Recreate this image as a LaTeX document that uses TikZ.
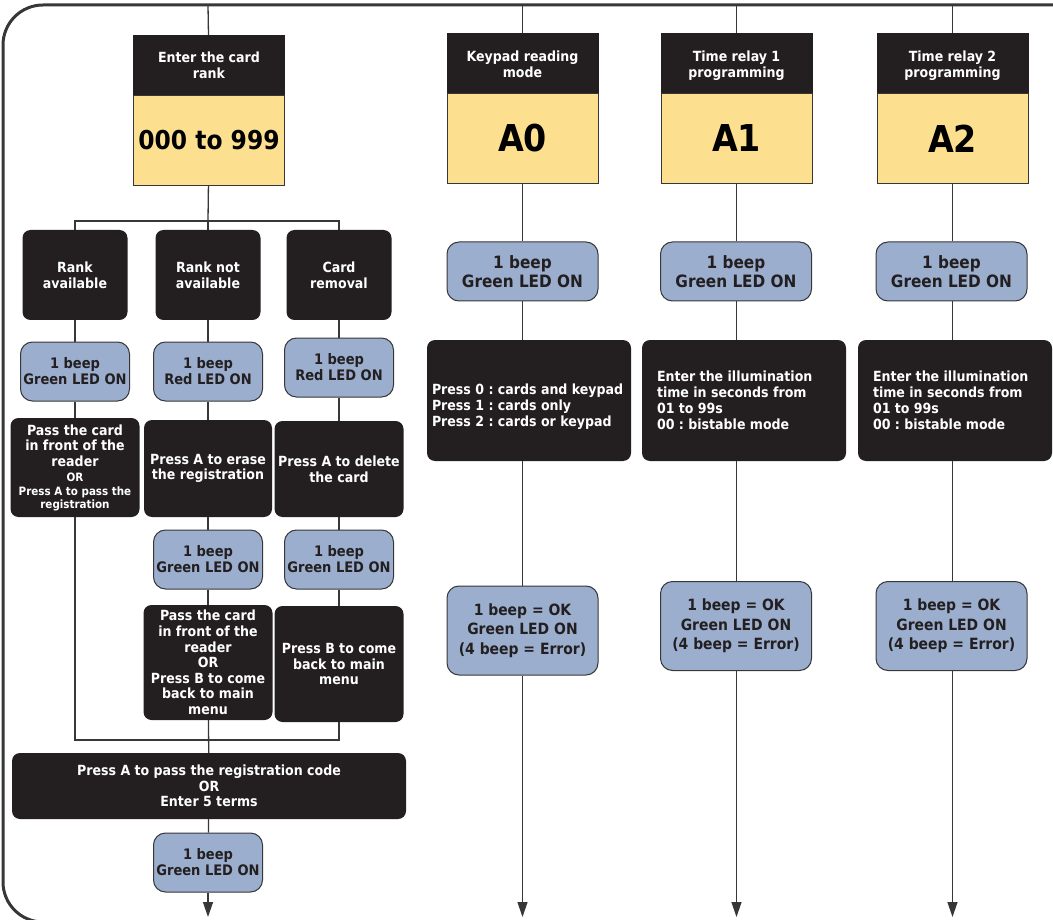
\documentclass[tikz,border=0pt]{standalone}
\usepackage{fontspec}
\usetikzlibrary{arrows.meta}
\newfontfamily\cbf{DejaVu Sans Condensed Bold}
\definecolor{boxblack}{RGB}{35,31,32}
\definecolor{codeyellow}{RGB}{253,224,143}
\definecolor{beepblue}{RGB}{155,174,206}
\definecolor{linegray}{RGB}{55,55,55}

\begin{document}
\begin{tikzpicture}[x=1pt, y=-1pt,
  lnk/.style={draw=linegray, line width=1.3pt},
  arr/.style={lnk, -{Triangle[length=15pt,width=10pt]}},
  hdr/.style={fill=boxblack, text=white, minimum width=152pt, minimum height=61pt,
              inner sep=0pt, text depth=0pt, align=center, font=\cbf\fontsize{14}{16}\selectfont},
  code/.style={fill=codeyellow, draw=linegray, line width=0.8pt, minimum width=151pt,
               minimum height=90pt, inner sep=0pt},
  blk/.style={fill=boxblack, text=white, rounded corners=8pt, inner sep=0pt,
              align=center, font=\cbf\fontsize{14}{15.6}\selectfont},
  setbox/.style={blk, minimum height=121pt, align=flush left,
                 font=\cbf\fontsize{14}{16}\selectfont\frenchspacing},
  beep/.style={fill=beepblue, draw=linegray, line width=1pt, rounded corners=12pt,
               inner sep=0pt, minimum width=109pt, minimum height=59pt, align=center,
               font=\cbf\fontsize{14.5}{16}\selectfont, text=boxblack},
  bigbeep/.style={beep, minimum width=151pt, font=\cbf\fontsize{17}{19.5}\selectfont},
  okbeep/.style={beep, minimum width=151pt, minimum height=89pt,
                 font=\cbf\fontsize{15.5}{19.5}\selectfont}]

\useasboundingbox (0,0) rectangle (1053,920);

% -------- frame -----------
\draw [linegray, line width=3pt, rounded corners=40pt] (1070,5) -- (3,5) -- (3,922) -- (120,922);

\coordinate (top)   at (208,5);
\coordinate (topA0) at (522.5,5);
\coordinate (topA1) at (736.5,5);
\coordinate (topA2) at (952.5,5);

% -------- card rank column -----------
\node [hdr]  (rank)     at (209,65.5) {Enter the card\\rank};
\node [code] (rankcode) at (209,140)  {\cbf\fontsize{26}{30}\selectfont 000 to 999};

\node [blk, minimum width=105pt, minimum height=90pt] (ra1) at (75,275)  {Rank\\available};
\node [blk, minimum width=105pt, minimum height=90pt] (rb1) at (208,275) {Rank not\\available};
\node [blk, minimum width=105pt, minimum height=90pt] (rc1) at (339,275) {Card\\removal};

\node [beep] (ra2) at (75,371.5)  {1 beep\\Green LED ON};
\node [beep] (rb2) at (208,371.5) {1 beep\\Red LED ON};
\node [beep] (rc2) at (339,367.5) {1 beep\\Red LED ON};

\node [blk, minimum width=129pt, minimum height=99pt] (ra3) at (75,467.5)
  {Pass the card\\in front of the\\reader\\{\fontsize{11.5}{13}\selectfont OR}\\[-2pt]
   {\fontsize{11.5}{13}\selectfont Press A to pass the}\\[-3pt]
   {\fontsize{11.5}{13}\selectfont registration}};
\node [blk, minimum width=128pt, minimum height=97pt] (rb3) at (208,468.5) {Press A to erase\\the registration};
\node [blk, minimum width=129pt, minimum height=96pt] (rc3) at (339,469)   {Press A to delete\\the card};

\node [beep] (rb4) at (208,559.5) {1 beep\\Green LED ON};
\node [beep] (rc4) at (339,559.5) {1 beep\\Green LED ON};

\node [blk, minimum width=129pt, minimum height=115pt] (rb5) at (208,662.5)
  {Pass the card\\in front of the\\reader\\OR\\Press B to come\\back to main\\menu};
\node [blk, minimum width=129pt, minimum height=116pt] (rc5) at (339,664)
  {Press B to come\\back to main\\menu};

\node [blk, minimum width=394pt, minimum height=66pt] (rcode) at (209,786)
  {Press A to pass the registration code\\OR\\Enter 5 terms};
\node [beep] (rdone) at (208,862.5) {1 beep\\Green LED ON};

\coordinate (split) at (208,221);
\coordinate (join)  at (208,740);

\draw [lnk] (top) -- (rank);
\draw [lnk] (rankcode) -- (split);
\draw [lnk] (ra1.north) |- (split) -| (rc1.north);
\draw [lnk] (split) -- (rb1);
\draw [lnk] (ra1) -- (ra2);
\draw [lnk] (ra2) -- (ra3);
\draw [lnk] (rb1) -- (rb2);
\draw [lnk] (rb2) -- (rb3);
\draw [lnk] (rb3) -- (rb4);
\draw [lnk] (rb4) -- (rb5);
\draw [lnk] (rc1) -- (rc2);
\draw [lnk] (rc2) -- (rc3);
\draw [lnk] (rc3) -- (rc4);
\draw [lnk] (rc4) -- (rc5);
\draw [lnk] (ra3.south) |- (join) -| (rc5.south);
\draw [lnk] (rb5) -- (rcode);
\draw [lnk] (rcode) -- (rdone);
\coordinate (endR) at (208,917);
\draw [arr] (rdone) -- (endR);

% -------- A0 A1 A2 columns -----------
\node [hdr]  (a0hd)   at (522.5,64)  {Keypad reading\\mode};
\node [code] (a0code) at (522.5,138.5) {\cbf\fontsize{37}{42}\selectfont A0};
\node [bigbeep] (a0beep) at (522.5,271.5) {1 beep\\Green LED ON};
\node [setbox, minimum width=204pt, text width=194pt, text depth=22pt] (a0set) at (529,400.5)
  {Press 0 : cards and keypad\\Press 1 : cards only\\Press 2 : cards or keypad};
\node [okbeep] (a0ok) at (522.5,630.5) {1 beep = OK\\Green LED ON\\(4 beep = Error)};

\node [hdr]  (a1hd)   at (736.5,64)  {Time relay 1\\programming};
\node [code] (a1code) at (736.5,138.5) {\cbf\fontsize{37}{42}\selectfont A1};
\node [bigbeep] (a1beep) at (736,271.5) {1 beep\\Green LED ON};
\node [setbox, minimum width=204pt, text width=174pt] (a1set) at (744,400.5)
  {Enter the illumination\\time in seconds from\\01 to 99s\\00 : bistable mode};
\node [okbeep] (a1ok) at (736,626) {1 beep = OK\\Green LED ON\\(4 beep = Error)};

\node [hdr]  (a2hd)   at (952.5,64)  {Time relay 2\\programming};
\node [code] (a2code) at (952.5,138.5) {\cbf\fontsize{37}{42}\selectfont A2};
\node [bigbeep] (a2beep) at (951.5,271.5) {1 beep\\Green LED ON};
\node [setbox, minimum width=194pt, text width=164pt] (a2set) at (955,400.5)
  {Enter the illumination\\time in seconds from\\01 to 99s\\00 : bistable mode};
\node [okbeep] (a2ok) at (951.5,626) {1 beep = OK\\Green LED ON\\(4 beep = Error)};

\coordinate (endA0) at (522.5,917);
\coordinate (endA1) at (736.5,917);
\coordinate (endA2) at (952.5,917);

\draw [lnk] (topA0) -- (a0hd);
\draw [lnk] (a0code) -- (a0beep.north -| a0code);
\draw [lnk] (a0beep.south -| a0code) -- (a0set.north -| a0code);
\draw [lnk] (a0set.south -| a0code) -- (a0ok.north -| a0code);
\draw [arr] (a0ok.south -| a0code) -- (endA0);

\draw [lnk] (topA1) -- (a1hd);
\draw [lnk] (a1code) -- (a1beep.north -| a1code);
\draw [lnk] (a1beep.south -| a1code) -- (a1set.north -| a1code);
\draw [lnk] (a1set.south -| a1code) -- (a1ok.north -| a1code);
\draw [arr] (a1ok.south -| a1code) -- (endA1);

\draw [lnk] (topA2) -- (a2hd);
\draw [lnk] (a2code) -- (a2beep.north -| a2code);
\draw [lnk] (a2beep.south -| a2code) -- (a2set.north -| a2code);
\draw [lnk] (a2set.south -| a2code) -- (a2ok.north -| a2code);
\draw [arr] (a2ok.south -| a2code) -- (endA2);
\end{tikzpicture}
\end{document}
